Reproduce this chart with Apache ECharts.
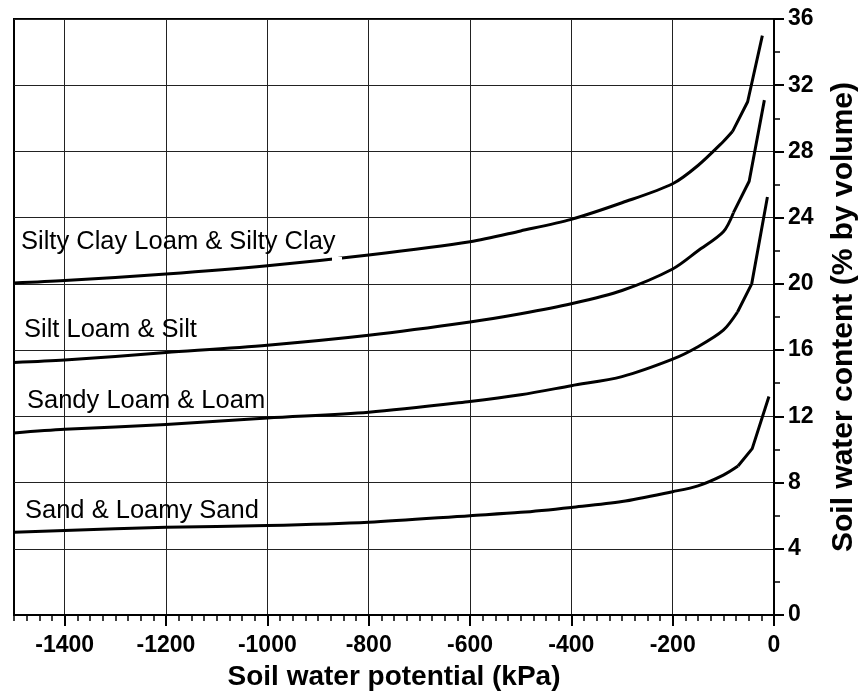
<!DOCTYPE html>
<html>
<head>
<meta charset="utf-8">
<script src="https://cdn.jsdelivr.net/npm/echarts@6/dist/echarts.min.js"></script>
<style>html,body{margin:0;padding:0;background:#fff}#c{width:867px;height:696px}</style>
</head>
<body>
<div id="c"></div>
<script>
// Soil water potential (kPa) shared by the smooth part of every curve
const potential = [-1500, -1400, -1200, -1000, -800, -600, -500, -400, -300, -200, -150, -100];

// Silty Clay Loam & Silty Clay
const siltyClayWC = [20.05, 20.2, 20.6, 21.1, 21.75, 22.55, 23.2, 23.9, 24.9, 26.05, 27.15, 28.6];
const siltyClayTailKPa = [-82, -52, -23];
const siltyClayTailWC = [29.2, 31.0, 35.0];

// Silt Loam & Silt
const siltLoamWC = [15.25, 15.4, 15.85, 16.3, 16.9, 17.7, 18.2, 18.8, 19.6, 20.9, 22.0, 23.15];
const siltLoamTailKPa = [-80, -49, -19];
const siltLoamTailWC = [24.3, 26.2, 31.1];

// Sandy Loam & Loam
const sandyLoamWC = [11.0, 11.22, 11.5, 11.9, 12.25, 12.9, 13.3, 13.85, 14.4, 15.45, 16.2, 17.2];
const sandyLoamTailKPa = [-72, -44, -13];
const sandyLoamTailWC = [18.3, 20.0, 25.25];

// Sand & Loamy Sand
const sandWC = [5.0, 5.1, 5.3, 5.4, 5.6, 6.0, 6.2, 6.5, 6.85, 7.45, 7.8, 8.45];
const sandTailKPa = [-71, -43, -10];
const sandTailWC = [9.0, 10.05, 13.2];

const curveNames = ['Silty Clay Loam & Silty Clay', 'Silt Loam & Silt', 'Sandy Loam & Loam', 'Sand & Loamy Sand'];
const xTickValues = [-1400, -1200, -1000, -800, -600, -400, -200, 0];

// smooth part: shared potentials + first tail point; straight part: the tail
function smoothPart(ys, tx, ty) {
  const out = potential.map((x, i) => [x, ys[i]]);
  out.push([tx[0], ty[0]]);
  return out;
}
function tailPart(tx, ty) {
  return tx.map((x, i) => [x, ty[i]]);
}
const curveSets = [
  [siltyClayWC, siltyClayTailKPa, siltyClayTailWC],
  [siltLoamWC, siltLoamTailKPa, siltLoamTailWC],
  [sandyLoamWC, sandyLoamTailKPa, sandyLoamTailWC],
  [sandWC, sandTailKPa, sandTailWC]
];

const FONT = "'Liberation Sans', Arial, Helvetica, sans-serif";
const chart = echarts.init(document.getElementById('c'), null, {renderer: 'canvas'});

const labelPos = [[21, 242], [24, 330], [27, 400.5], [25, 510.5]];

const series = [];
curveSets.forEach((c, i) => {
  series.push({
    type: 'line', name: curveNames[i], data: smoothPart(c[0], c[1], c[2]), xAxisIndex: 0,
    showSymbol: false, symbol: 'none', smooth: 0.3,
    lineStyle: {color: '#000', width: 3, join: 'round'}
  });
  series.push({
    type: 'line', name: curveNames[i] + ' (wet end)', data: tailPart(c[1], c[2]), xAxisIndex: 0,
    showSymbol: false, symbol: 'none', smooth: false,
    lineStyle: {color: '#000', width: 3, join: 'round'}
  });
});

chart.setOption({
  backgroundColor: '#fff',
  animation: false,
  grid: {
    left: 14, right: 92, top: 19, bottom: 76,
    show: true, borderColor: '#000', borderWidth: 2, backgroundColor: 'transparent'
  },
  xAxis: [{
    type: 'value', min: -1500, max: 0, position: 'bottom',
    name: 'Soil water potential (kPa)', nameLocation: 'middle', nameGap: 48,
    nameTextStyle: {fontFamily: FONT, fontWeight: 'bold', fontSize: 28, color: '#000'},
    axisLine: {show: true, onZero: false, lineStyle: {color: '#000', width: 2}},
    axisTick: {show: true, customValues: xTickValues, length: 11, lineStyle: {color: '#000', width: 2}},
    axisLabel: {show: true, customValues: xTickValues, margin: 19, fontFamily: FONT, fontWeight: 'bold', fontSize: 23, color: '#000',
      formatter: v => String(v)},
    splitLine: {show: true, lineStyle: {color: '#222', width: 1}}
  }, {
    type: 'value', min: -1500, max: 0, interval: 25, position: 'bottom',
    axisLine: {show: false},
    axisTick: {show: true, length: 6, lineStyle: {color: '#000', width: 1.5}},
    axisLabel: {show: false},
    splitLine: {show: false}
  }],
  yAxis: {
    type: 'value', min: 0, max: 36, interval: 4, position: 'right',
    name: 'Soil water content (% by volume)', nameLocation: 'middle', nameGap: 55, nameRotate: 90,
    nameTextStyle: {fontFamily: FONT, fontWeight: 'bold', fontSize: 30, color: '#000'},
    axisLine: {show: true, onZero: false, lineStyle: {color: '#000', width: 2}},
    axisTick: {show: true, length: 10, lineStyle: {color: '#000', width: 2}},
    minorTick: {show: true, splitNumber: 2, length: 6, lineStyle: {color: '#000', width: 1.5}},
    axisLabel: {margin: 14, fontFamily: FONT, fontWeight: 'bold', fontSize: 23, color: '#000'},
    splitLine: {show: true, lineStyle: {color: '#222', width: 1}}
  },
  series: series,
  graphic: curveNames.map((t, i) => ({
    type: 'text', x: labelPos[i][0], y: labelPos[i][1], z: 100,
    style: {text: t, fontFamily: FONT, fontSize: 25.5, fill: '#000', verticalAlign: 'middle', align: 'left'}
  })).concat([{
    // small break in the top curve just right of its label, as in the original
    type: 'rect', z: 100, shape: {x: 332, y: 257, width: 10, height: 9}, style: {fill: '#fff'}
  }])
});
</script>
</body>
</html>
